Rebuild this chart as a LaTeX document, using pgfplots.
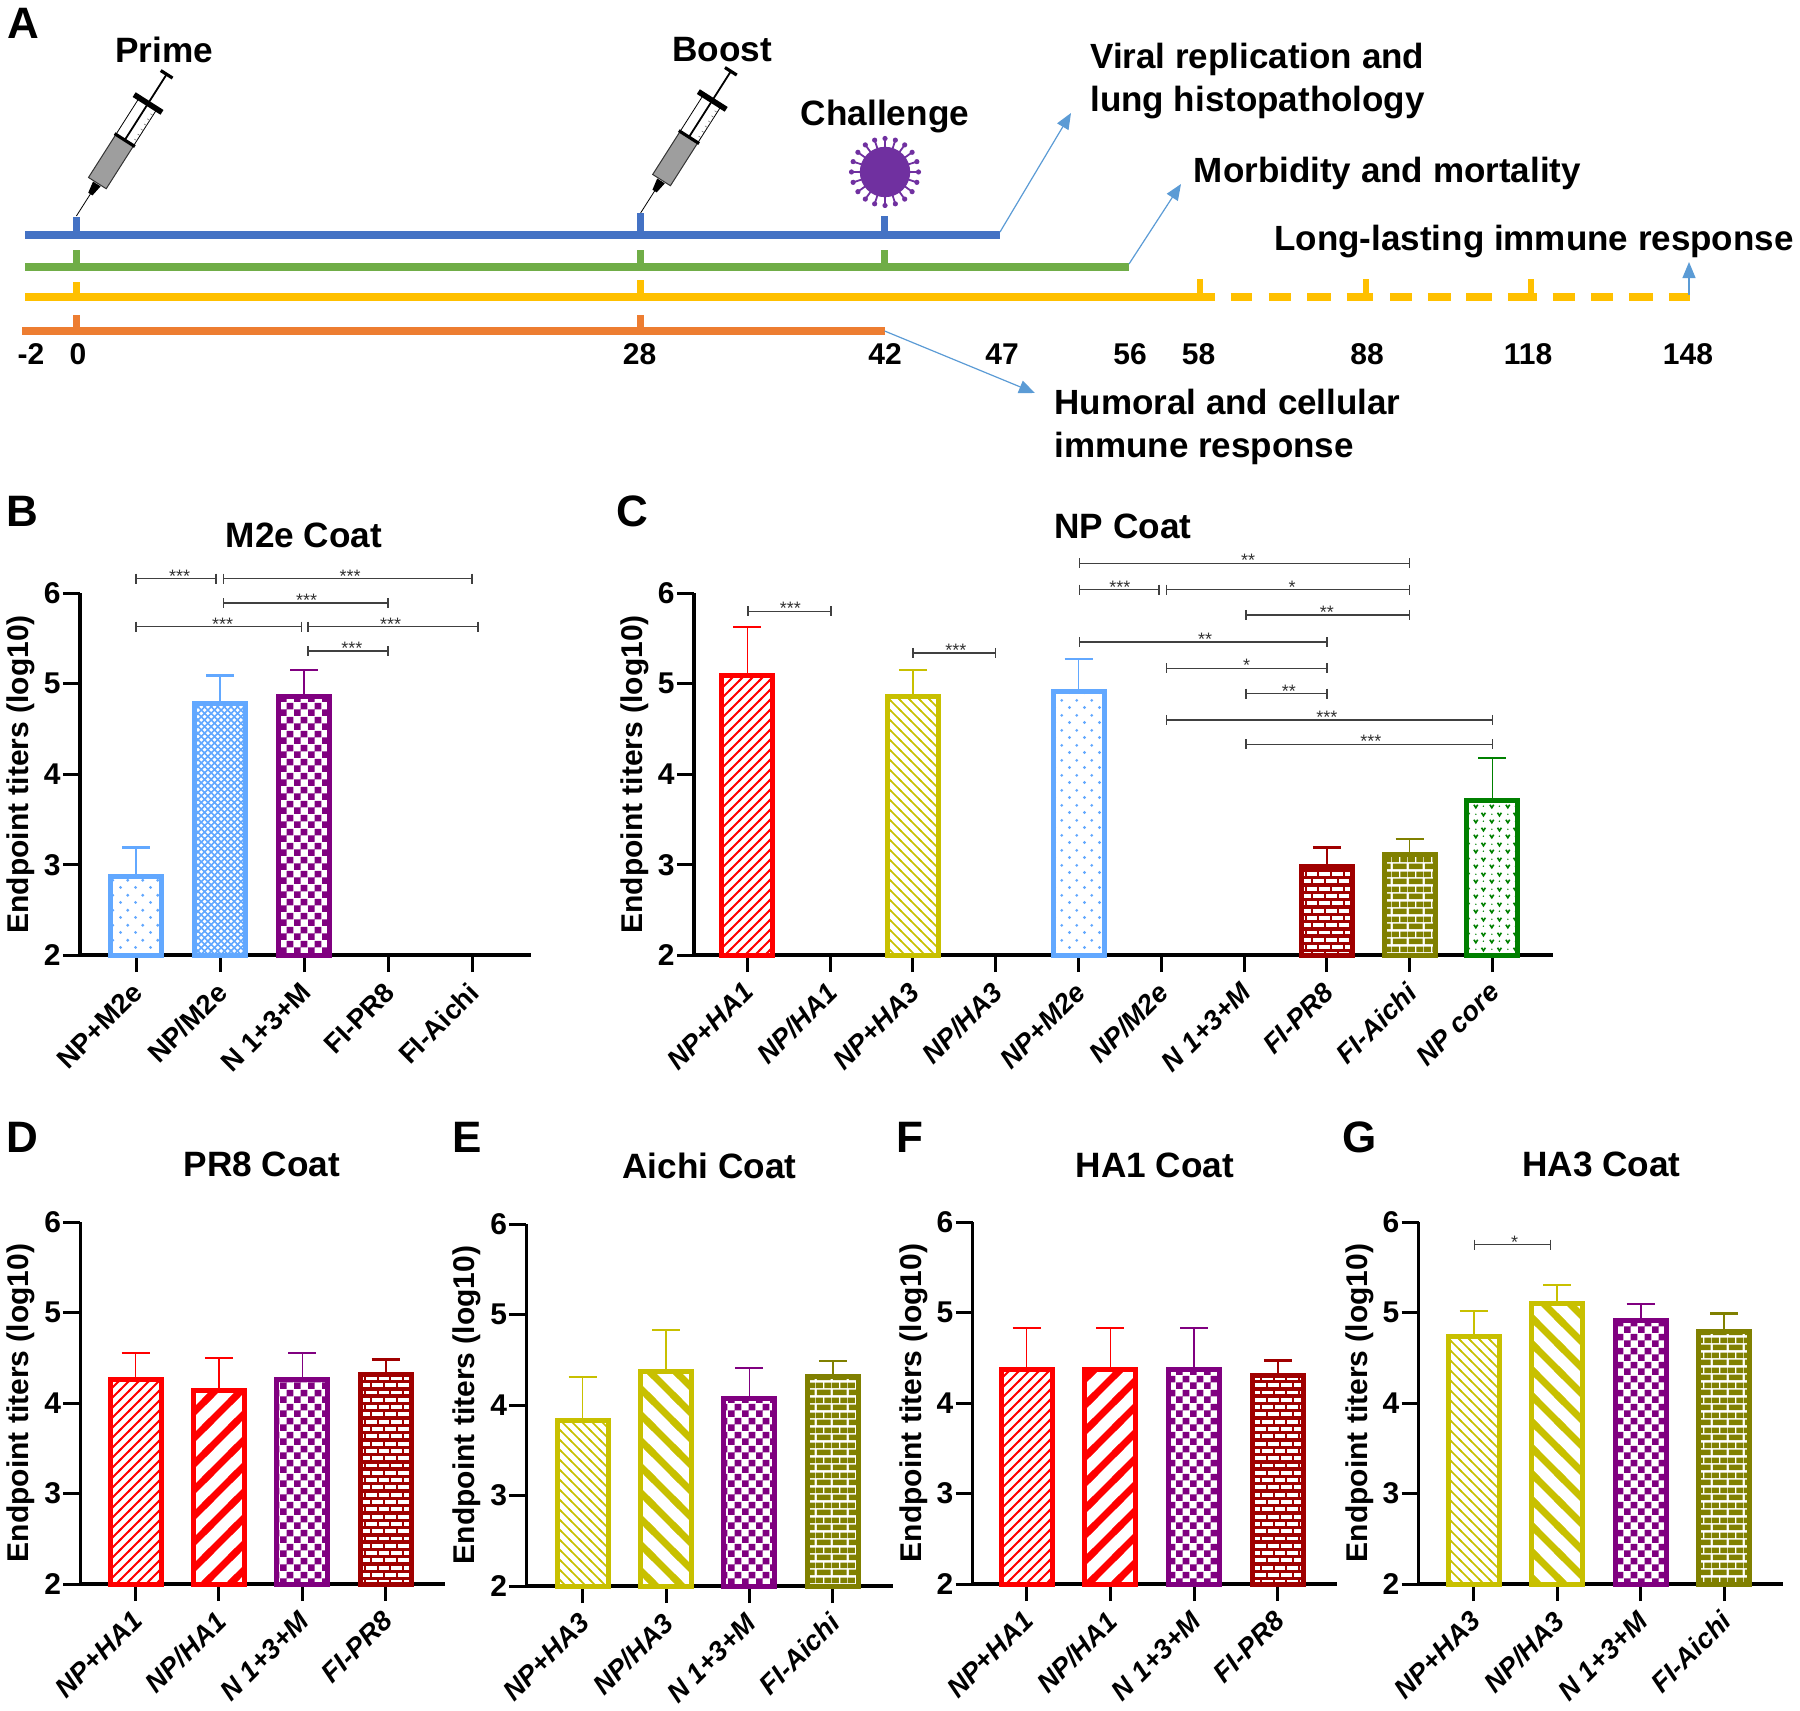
\documentclass[border=0pt]{standalone}
\usepackage{fontspec}
\setmainfont{Liberation Sans}
\usepackage{pgfplots}
\pgfplotsset{compat=1.18}
\usetikzlibrary{patterns,arrows.meta}

% colours of the groups
\definecolor{lblue}{HTML}{62A8FF}
\definecolor{purp}{HTML}{800080}
\definecolor{hared}{HTML}{FF0000}
\definecolor{haolive}{HTML}{C8C000}
\definecolor{dred}{HTML}{A00000}
\definecolor{brick}{HTML}{808000}
\definecolor{dgreen}{HTML}{008000}
\definecolor{tlblue}{HTML}{4472C4}
\definecolor{tlgreen}{HTML}{70AD47}
\definecolor{tlyellow}{HTML}{FFC000}
\definecolor{tlorange}{HTML}{ED7D31}
\definecolor{arrowc}{HTML}{5B9BD5}
\definecolor{virus}{HTML}{7030A0}

% fill patterns of the bars
\pgfdeclarepatternformonly{thinup}{\pgfqpoint{-1pt}{-1pt}}{\pgfqpoint{6pt}{6pt}}{\pgfqpoint{5pt}{5pt}}{%
  \pgfsetlinewidth{.9pt}\pgfpathmoveto{\pgfqpoint{-1pt}{-1pt}}\pgfpathlineto{\pgfqpoint{6pt}{6pt}}\pgfusepath{stroke}}
\pgfdeclarepatternformonly{thindown}{\pgfqpoint{-1pt}{-1pt}}{\pgfqpoint{6pt}{6pt}}{\pgfqpoint{5pt}{5pt}}{%
  \pgfsetlinewidth{.8pt}\pgfpathmoveto{\pgfqpoint{-1pt}{6pt}}\pgfpathlineto{\pgfqpoint{6pt}{-1pt}}\pgfusepath{stroke}}
\pgfdeclarepatternformonly{thickup}{\pgfqpoint{-3pt}{-3pt}}{\pgfqpoint{16pt}{16pt}}{\pgfqpoint{13pt}{13pt}}{%
  \pgfsetlinewidth{3.4pt}\pgfpathmoveto{\pgfqpoint{-3pt}{-3pt}}\pgfpathlineto{\pgfqpoint{16pt}{16pt}}\pgfusepath{stroke}}
\pgfdeclarepatternformonly{thickdown}{\pgfqpoint{-3pt}{-3pt}}{\pgfqpoint{16pt}{16pt}}{\pgfqpoint{13pt}{13pt}}{%
  \pgfsetlinewidth{3.4pt}\pgfpathmoveto{\pgfqpoint{-3pt}{16pt}}\pgfpathlineto{\pgfqpoint{16pt}{-3pt}}\pgfusepath{stroke}}
\pgfdeclarepatternformonly{checker}{\pgfqpoint{0pt}{0pt}}{\pgfqpoint{7pt}{7pt}}{\pgfqpoint{7pt}{7pt}}{%
  \pgfpathrectangle{\pgfqpoint{0pt}{0pt}}{\pgfqpoint{3.5pt}{3.5pt}}%
  \pgfpathrectangle{\pgfqpoint{3.5pt}{3.5pt}}{\pgfqpoint{3.5pt}{3.5pt}}\pgfusepath{fill}}
\pgfdeclarepatternformonly{sparsedots}{\pgfqpoint{0pt}{0pt}}{\pgfqpoint{7.3pt}{7.3pt}}{\pgfqpoint{7.3pt}{7.3pt}}{%
  \pgfpathcircle{\pgfqpoint{1.8pt}{1.8pt}}{.8pt}\pgfpathcircle{\pgfqpoint{5.45pt}{5.45pt}}{.8pt}\pgfusepath{fill}}
\pgfdeclarepatternformonly{densedots}{\pgfqpoint{-.5pt}{-.5pt}}{\pgfqpoint{3.8pt}{3.8pt}}{\pgfqpoint{3.3pt}{3.3pt}}{%
  \pgfsetlinewidth{.8pt}\pgfpathmoveto{\pgfqpoint{-.5pt}{-.5pt}}\pgfpathlineto{\pgfqpoint{3.8pt}{3.8pt}}%
  \pgfpathmoveto{\pgfqpoint{-.5pt}{3.8pt}}\pgfpathlineto{\pgfqpoint{3.8pt}{-.5pt}}\pgfusepath{stroke}}
\pgfdeclarepatternformonly{bricksA}{\pgfqpoint{0pt}{0pt}}{\pgfqpoint{8pt}{7.5pt}}{\pgfqpoint{8pt}{7.5pt}}{%
  \pgfpathrectangle{\pgfqpoint{.4pt}{.4pt}}{\pgfqpoint{7.2pt}{2.95pt}}%
  \pgfpathrectangle{\pgfqpoint{0pt}{4.15pt}}{\pgfqpoint{3.6pt}{2.95pt}}%
  \pgfpathrectangle{\pgfqpoint{4.4pt}{4.15pt}}{\pgfqpoint{3.6pt}{2.95pt}}\pgfusepath{fill}}
\pgfdeclarepatternformonly{bricksB}{\pgfqpoint{-1pt}{-1pt}}{\pgfqpoint{7.4pt}{8.3pt}}{\pgfqpoint{6.4pt}{7.3pt}}{%
  \pgfsetlinewidth{1.7pt}\pgfpathmoveto{\pgfqpoint{-1pt}{0pt}}\pgfpathlineto{\pgfqpoint{7.4pt}{0pt}}%
  \pgfpathmoveto{\pgfqpoint{-1pt}{3.65pt}}\pgfpathlineto{\pgfqpoint{7.4pt}{3.65pt}}%
  \pgfpathmoveto{\pgfqpoint{-1pt}{7.3pt}}\pgfpathlineto{\pgfqpoint{7.4pt}{7.3pt}}\pgfusepath{stroke}%
  \pgfsetlinewidth{1pt}\pgfpathmoveto{\pgfqpoint{0pt}{0pt}}\pgfpathlineto{\pgfqpoint{0pt}{3.65pt}}%
  \pgfpathmoveto{\pgfqpoint{6.4pt}{0pt}}\pgfpathlineto{\pgfqpoint{6.4pt}{3.65pt}}%
  \pgfpathmoveto{\pgfqpoint{3.2pt}{3.65pt}}\pgfpathlineto{\pgfqpoint{3.2pt}{7.3pt}}\pgfusepath{stroke}}
\pgfdeclarepatternformonly{vees}{\pgfqpoint{0pt}{0pt}}{\pgfqpoint{8pt}{7.5pt}}{\pgfqpoint{8pt}{7.5pt}}{%
  \pgfsetlinewidth{.85pt}%
  \pgfpathmoveto{\pgfqpoint{1pt}{2.8pt}}\pgfpathlineto{\pgfqpoint{2pt}{1.2pt}}\pgfpathlineto{\pgfqpoint{3pt}{2.8pt}}%
  \pgfpathmoveto{\pgfqpoint{5pt}{6.5pt}}\pgfpathlineto{\pgfqpoint{6pt}{4.9pt}}\pgfpathlineto{\pgfqpoint{7pt}{6.5pt}}\pgfusepath{stroke}%
  \pgfpathcircle{\pgfqpoint{6pt}{2pt}}{.4pt}\pgfpathcircle{\pgfqpoint{2pt}{5.7pt}}{.4pt}\pgfusepath{fill}}

\newcommand{\fs}[1]{\bfseries\fontsize{#1}{#1}\selectfont}

% one bar: x, value, error, colour, pattern
\newcommand{\tbar}[5]{%
  \addplot[ybar,bar shift=0pt,bar width=25.5pt,draw=#4,line width=2.5pt,pattern=#5,pattern color=#4,
    error bars/.cd,y dir=plus,y explicit,
    error bar style={draw=#4,line width=.8pt,solid},
    error mark options={rotate=90,draw=#4,mark size=7pt,line width=1.1pt}]
    coordinates {(#1,#2) +- (0,#3)};}

% significance bracket: x1, x2, y, x of the stars, stars
\newcommand{\brk}[5]{%
  \addplot[black!75,line width=.75pt,sharp plot,mark=|,mark size=2.5pt,mark options={solid,line width=.75pt}]
    coordinates {(#1,#3) (#2,#3)};
  \node[font=\fontsize{9}{9}\selectfont,text=black!80,inner sep=0pt,yshift=1.3pt] at (axis cs:#4,#3) {#5};}

\newcommand{\letter}[3]{\node[font=\fs{22},inner sep=0pt] at (#1,#2) {#3};}
\newcommand{\ttl}[3]{\node[font=\fs{17.6},inner sep=0pt] at (#1,#2) {#3};}
\newcommand{\lft}[3]{\node[font=\fs{17.5},inner sep=0pt,anchor=west] at (#1,#2) {#3};}
\newcommand{\dayl}[2]{\node[font=\fs{15},inner sep=0pt] at (#1,354) {#2};}
\newcommand{\syringe}[2]{%
\begin{scope}[shift={(#1,#2)},x=.5pt,y=.5pt,rotate=57.5]
  \draw[black,line width=.4pt] (0,0) -- (27,0);
  \fill[black] (26,-2.5) -- (38,-4.5) -- (38,4.5) -- (26,2.5) -- cycle;
  \filldraw[fill=black!38,draw=black!80,line width=.5pt] (39,-10.5) rectangle (90,10.5);
  \draw[black,line width=.4pt] (90,-10.5) -- (133,-10.5) (90,10.5) -- (133,10.5);
  \draw[black,line width=.9pt] (90,0) -- (168,0);
  \draw[black,line width=1.6pt] (90,-12) -- (90,12);
  \draw[black,line width=2.8pt] (133.4,-16.5) -- (133.4,16.5);
  \draw[black,line width=1.6pt] (168,-7) -- (168,7);
  \foreach \k in {96,102,...,126} {\draw[black!60,line width=.25pt] (\k,-10.5) -- (\k,-7.5);}
\end{scope}}

\pgfplotsset{
  panel/.style={scale only axis,clip=false,anchor=south west,
    axis x line*=bottom,axis y line*=left,
    axis line style={line width=1.7pt,-},
    ymin=2,ymax=6,ytick={2,3,4,5,6},
    tick align=outside,major tick length=8.5pt,
    tick style={black,line width=1.5pt},
    /pgf/number format/assume math mode=true,
    ylabel={Endpoint titers (log10)},
    every axis y label/.style={at={(axis description cs:0,.5)},xshift=-29.7pt,rotate=90,anchor=center,font=\fs{15}},
    yticklabel style={font=\fs{15},inner sep=1pt},
    xticklabel style={font=\fs{13.7}\itshape,xshift=-2.5pt,yshift=-4pt,rotate=45,anchor=north east,inner sep=0pt},
    height=181pt},
}

\begin{document}
\begin{tikzpicture}
\path[use as bounding box] (0,0) rectangle (900pt,855pt);

% panel A: time lines, drawn in picture pixels
\begin{axis}[at={(0,0)},anchor=south west,scale only axis,width=900pt,height=855pt,
  xmin=0,xmax=1800,ymin=0,ymax=1710,y dir=reverse,hide axis,clip=false,unbounded coords=jump]
\addplot[tlblue,line width=3.2pt] coordinates {(76.5,235) (76.5,217) (nan,nan) (640.6,235) (640.6,213) (nan,nan) (884.6,235) (884.6,216)};
\addplot[tlgreen,line width=3.2pt] coordinates {(76.5,267) (76.5,250) (nan,nan) (640.6,267) (640.6,250) (nan,nan) (884.6,267) (884.6,250)};
\addplot[tlyellow,line width=3.2pt] coordinates {(76.5,297) (76.5,282) (nan,nan) (640.6,297) (640.6,280) (nan,nan) (1200,297) (1200,279) (nan,nan) (1366,297) (1366,279) (nan,nan) (1531,297) (1531,279)};
\addplot[tlorange,line width=3.2pt] coordinates {(76.5,331) (76.5,315) (nan,nan) (640.6,331) (640.6,315)};
\addplot[tlblue,line width=3.8pt] coordinates {(25,235) (1000,235)};
\addplot[tlgreen,line width=3.8pt] coordinates {(25,267) (1129,267)};
\addplot[tlorange,line width=3.8pt] coordinates {(22,331) (884.6,331)};
\addplot[tlyellow,line width=3.8pt] coordinates {(25,297) (1214.5,297) (nan,nan)
  (1230.5,297) (1251.5,297) (nan,nan) (1268.8,297) (1291,297) (nan,nan) (1307,297) (1330.6,297) (nan,nan)
  (1346.6,297) (1372.7,297) (nan,nan) (1390,297) (1412,297) (nan,nan) (1428,297) (1450.5,297) (nan,nan)
  (1466.4,297) (1492,297) (nan,nan) (1508,297) (1536.6,297) (nan,nan) (1552.6,297) (1574.9,297) (nan,nan)
  (1590.8,297) (1613,297) (nan,nan) (1629,297) (1652.7,297) (nan,nan) (1669.3,297) (1689.7,297)};
\addplot[arrowc,line width=.6pt,-{Triangle[length=8pt,width=6.5pt]}] coordinates {(1000,232) (1071,113)};
\addplot[arrowc,line width=.6pt,-{Triangle[length=8pt,width=6.5pt]}] coordinates {(1129,264) (1181,184)};
\addplot[arrowc,line width=.6pt,-{Triangle[length=8pt,width=6.5pt]}] coordinates {(1689,295) (1689,262)};
\addplot[arrowc,line width=.6pt,-{Triangle[length=8pt,width=6.5pt]}] coordinates {(884.6,331) (1035,393)};
\end{axis}

% panel B
\begin{axis}[panel,at={(40pt,377.4pt)},width=225.5pt,xmin=-.667,xmax=4.702,
  xtick={0,1,2,3,4},xticklabels={NP+M2e,NP/M2e,N 1+3+M,FI-PR8,FI-Aichi},
  xticklabel style={font=\fs{13.7}\upshape}]
\tbar{0}{2.865}{0.325}{lblue}{sparsedots}
\tbar{1}{4.785}{0.305}{lblue}{densedots}
\tbar{2}{4.855}{0.295}{purp}{checker}
\brk{0}{.953}{6.16}{.52}{***}
\brk{1.04}{4}{6.16}{2.55}{***}
\brk{1.04}{3}{5.89}{2.03}{***}
\brk{0}{1.97}{5.63}{1.03}{***}
\brk{2.05}{4.07}{5.63}{3.03}{***}
\brk{2.05}{3}{5.36}{2.57}{***}
\end{axis}

% panel C
\begin{axis}[panel,at={(347pt,377.4pt)},width=429.7pt,xmin=-.644,xmax=9.736,
  axis line style={line width=2.2pt,-},
  xtick={0,...,9},xticklabels={NP+HA1,NP/HA1,NP+HA3,NP/HA3,NP+M2e,NP/M2e,N 1+3+M,FI-PR8,FI-Aichi,NP core}]
\tbar{0}{5.095}{0.535}{hared}{thinup}
\tbar{2}{4.855}{0.295}{haolive}{thindown}
\tbar{4}{4.915}{0.355}{lblue}{sparsedots}
\tbar{7}{2.985}{0.205}{dred}{bricksB}
\tbar{8}{3.115}{0.165}{brick}{bricksA}
\tbar{9}{3.705}{0.475}{dgreen}{vees}
\brk{4.01}{8}{6.33}{6.05}{**}
\brk{4.01}{4.97}{6.04}{4.5}{***}
\brk{5.06}{8}{6.04}{6.58}{*}
\brk{6.02}{8}{5.76}{7}{**}
\brk{0.01}{1.01}{5.80}{.52}{***}
\brk{2}{3}{5.34}{2.52}{***}
\brk{4.01}{7}{5.46}{5.53}{**}
\brk{5.06}{7}{5.17}{6.03}{*}
\brk{6.02}{7}{4.89}{6.54}{**}
\brk{5.06}{9}{4.60}{7}{***}
\brk{6.02}{9}{4.33}{7.53}{***}
\end{axis}

% panel D
\begin{axis}[panel,at={(40.2pt,63pt)},width=182.3pt,xmin=-.661,xmax=3.711,
  xtick={0,1,2,3},xticklabels={NP+HA1,NP/HA1,N 1+3+M,FI-PR8}]
\tbar{0}{4.255}{0.295}{hared}{thinup}
\tbar{1}{4.135}{0.365}{hared}{thickup}
\tbar{2}{4.255}{0.295}{purp}{checker}
\tbar{3}{4.315}{0.165}{dred}{bricksB}
\end{axis}

% panel E
\begin{axis}[panel,at={(263.2pt,62pt)},width=183.1pt,xmin=-.675,xmax=3.716,
  xtick={0,1,2,3},xticklabels={NP+HA3,NP/HA3,N 1+3+M,FI-Aichi}]
\tbar{0}{3.825}{0.485}{haolive}{thindown}
\tbar{1}{4.375}{0.455}{haolive}{thickdown}
\tbar{2}{4.075}{0.335}{purp}{checker}
\tbar{3}{4.315}{0.175}{brick}{bricksA}
\end{axis}

% panel F
\begin{axis}[panel,at={(486.35pt,63pt)},width=181.95pt,xmin=-.645,xmax=3.703,
  xtick={0,1,2,3},xticklabels={NP+HA1,NP/HA1,N 1+3+M,FI-PR8}]
\tbar{0}{4.365}{0.465}{hared}{thinup}
\tbar{1}{4.365}{0.465}{hared}{thickup}
\tbar{2}{4.365}{0.465}{purp}{checker}
\tbar{3}{4.305}{0.165}{dred}{bricksB}
\end{axis}

% panel G
\begin{axis}[panel,at={(709.35pt,63pt)},width=181.95pt,xmin=-.659,xmax=3.699,
  xtick={0,1,2,3},xticklabels={NP+HA3,NP/HA3,N 1+3+M,FI-Aichi}]
\tbar{0}{4.735}{0.285}{haolive}{thindown}
\tbar{1}{5.095}{0.205}{haolive}{thickdown}
\tbar{2}{4.915}{0.175}{purp}{checker}
\tbar{3}{4.795}{0.195}{brick}{bricksA}
\brk{0.01}{.92}{5.75}{.49}{*}
\end{axis}

% texts and drawings, in picture pixels from the top left
\begin{scope}[yshift=855pt,x=.5pt,y=-.5pt]
\letter{23}{23}{A}\letter{22}{511}{B}\letter{632.5}{511}{C}\letter{22}{1137}{D}
\letter{467}{1137}{E}\letter{910}{1137}{F}\letter{1360}{1137}{G}

\ttl{304}{535}{M2e Coat}\ttl{1123}{526}{NP Coat}\ttl{262}{1164}{PR8 Coat}
\ttl{709.5}{1166}{Aichi Coat}\ttl{1155}{1165}{HA1 Coat}\ttl{1601.5}{1164}{HA3 Coat}
\ttl{164}{50}{Prime}\ttl{722}{50}{Boost}\ttl{885}{116}{Challenge}

\lft{1090}{59.5}{Viral replication and}\lft{1090}{102.5}{lung histopathology}
\lft{1193.5}{173.5}{Morbidity and mortality}
\lft{1274}{241.5}{Long-lasting immune response}
\lft{1054}{402}{Humoral and cellular}\lft{1054}{448}{immune response}

\dayl{31}{-2}\dayl{78}{0}\dayl{639.5}{28}\dayl{885}{42}\dayl{1002}{47}
\dayl{1130}{56}\dayl{1198.5}{58}\dayl{1367}{88}\dayl{1528}{118}\dayl{1688}{148}

% syringes
\syringe{76.4}{216}
\syringe{640.6}{213}

% virus
\fill[virus] (885,172) circle[radius=12.6pt];
\foreach \a in {0,18,...,342} {
  \draw[virus,line width=.9pt] (885,172) ++(\a:24) -- ++(\a:9);
  \fill[virus] (885,172) ++(\a:33.5) circle[radius=1.3pt];
}
\end{scope}
\end{tikzpicture}
\end{document}
